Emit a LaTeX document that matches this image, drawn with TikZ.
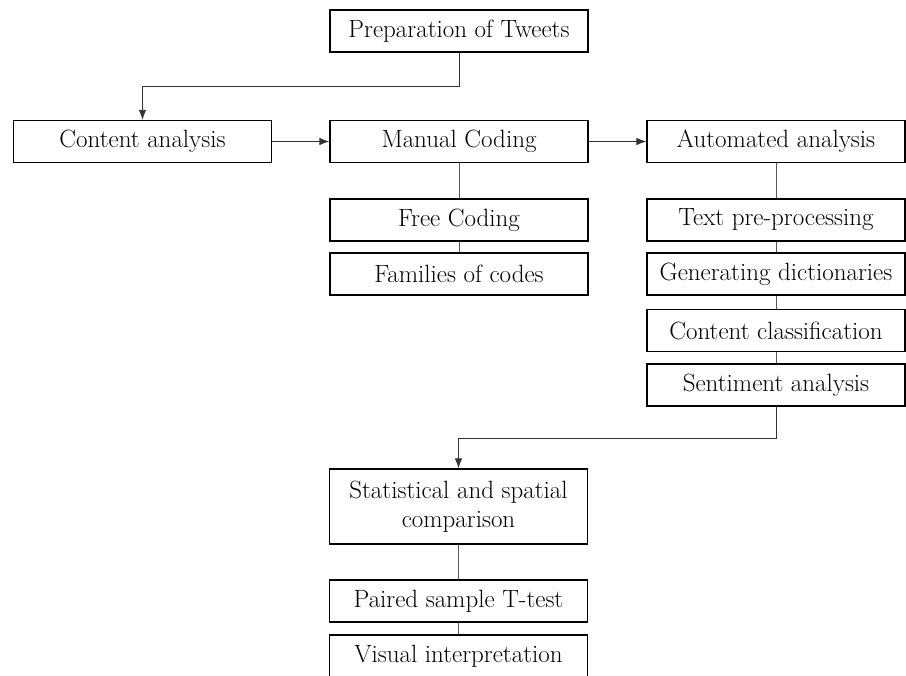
\documentclass[tikz,border=0pt]{standalone}
\usepackage{fontspec}
\usepackage{tikz}
\usetikzlibrary{arrows.meta}

\tikzset{
	stepbox/.style={draw, line width=1.3pt, minimum width=258pt, minimum height=42pt,
		inner sep=2pt, align=center, font=\fontsize{25}{29}\selectfont},
	link/.style={draw=black!65, line width=0.9pt},
	flow/.style={draw=black!80, line width=0.9pt, -{Latex[length=10pt,width=7.5pt]}}
}

\begin{document}
\begin{tikzpicture}[x=1pt, y=-1pt]
	\clip (0,0) rectangle (906,676);
	\node[stepbox] (prep) at (459,31) {Preparation of Tweets};
	\node[stepbox] (content) at (142.5,141.5) {Content analysis};
	\node[stepbox] (manual) at (459,141.5) {Manual Coding};
	\node[stepbox] (auto) at (776,141.5) {Automated analysis};

	\node[stepbox] (free) at (459,220) {Free Coding};
	\node[stepbox] (families) at (459,274) {Families of codes};

	\node[stepbox] (textpre) at (776,220) {Text pre-processing};
	\node[stepbox] (gendict) at (776,274) {Generating dictionaries};
	\node[stepbox] (contclass) at (776,330.5) {Content classification};
	\node[stepbox] (sentiment) at (776,385) {Sentiment analysis};

	\node[stepbox, minimum height=75pt] (stat) at (458.5,506.5) {Statistical and spatial\\comparison};
	\node[stepbox] (paired) at (458.5,601) {Paired sample T-test};
	\node[stepbox] (visual) at (458.5,656) {Visual interpretation};

	\coordinate (bendtop) at (459,86);
	\coordinate (bendbot) at (776,438);

	\draw[flow] (prep.south) -- (bendtop) -| (content.north);
	\draw[flow] (content.east) -- (manual.west);
	\draw[flow] (manual.east) -- (auto.west);
	\draw[link] (manual.south) -- (free.north);
	\draw[link] (free.south) -- (families.north);
	\draw[link] (auto.south) -- (textpre.north);
	\draw[link] (textpre.south) -- (gendict.north);
	\draw[link] (gendict.south) -- (contclass.north);
	\draw[link] (contclass.south) -- (sentiment.north);
	\draw[flow] (sentiment.south) -- (bendbot) -| (stat.north);
	\draw[link] (stat.south) -- (paired.north);
	\draw[link] (paired.south) -- (visual.north);
\end{tikzpicture}
\end{document}
